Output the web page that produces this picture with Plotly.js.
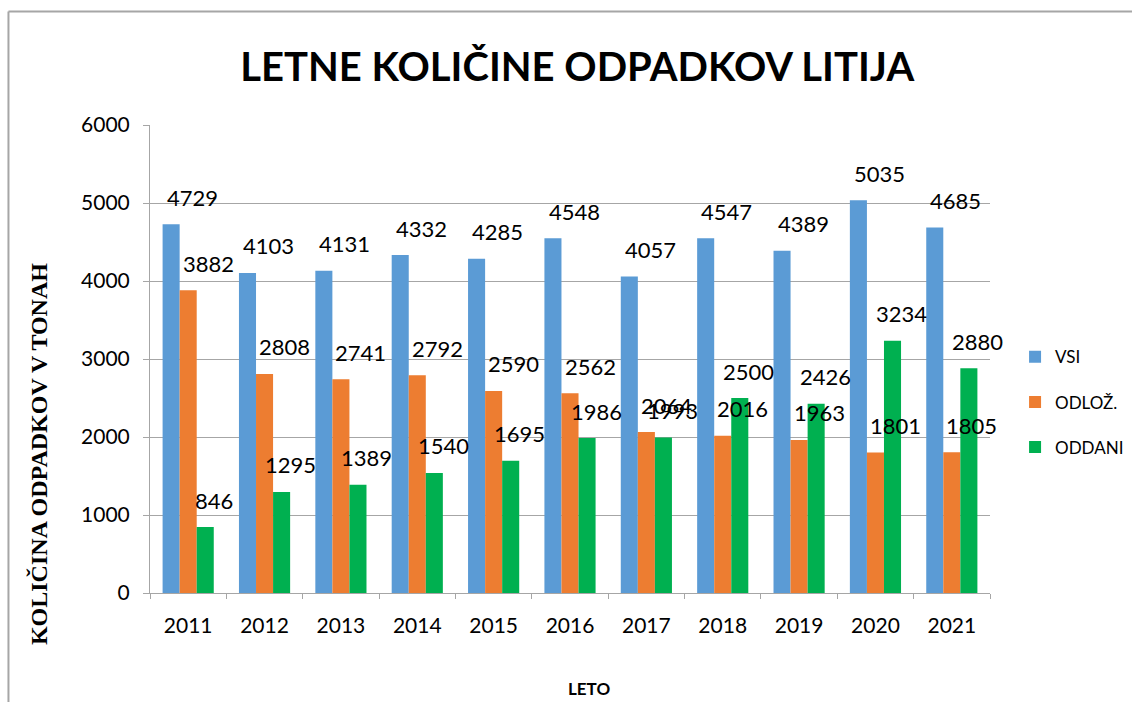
<!DOCTYPE html>
<html>
<head>
<meta charset="utf-8">
<script src="https://cdn.plot.ly/plotly-3.0.1.min.js"></script>
<style>html,body{margin:0;padding:0;background:#fff;}#chart{width:1132px;height:702px;}</style>
</head>
<body>
<div id="chart"></div>
<script>
const years = ['2011','2012','2013','2014','2015','2016','2017','2018','2019','2020','2021'];
const vsi    = [4729, 4103, 4131, 4332, 4285, 4548, 4057, 4547, 4389, 5035, 4685];
const odloz  = [3882, 2808, 2741, 2792, 2590, 2562, 2064, 2016, 1963, 1801, 1805];
const oddani = [846, 1295, 1389, 1540, 1695, 1986, 1993, 2500, 2426, 3234, 2880];
const seriesNames = ['VSI', 'ODLOŽ.', 'ODDANI'];
const colors = ['#5b9bd5', '#ed7d31', '#00b050'];

const font = 'Lato, "Open Sans", sans-serif';
const allSeries = [vsi, odloz, oddani];

const traces = allSeries.map((vals, i) => ({
  type: 'bar', name: seriesNames[i], x: years, y: vals, legendgroup: 'g' + i,
  marker: {color: colors[i]}, hoverinfo: 'x+y'
}));

const xshifts = [4, 20, 26];
const annotations = [];
allSeries.forEach((vals, i) => {
  vals.forEach((v, j) => {
    annotations.push({
      x: j, y: v, xref: 'x', yref: 'y', text: String(v),
      showarrow: false, xshift: xshifts[i], yshift: 27, yanchor: 'middle',
      font: {family: font, size: 22, color: '#000'}
    });
  });
});
annotations.push({
  xref: 'paper', yref: 'paper', x: 0.523, y: -0.205, xanchor: 'center', yanchor: 'middle',
  text: '<b>LETO</b>', showarrow: false, font: {family: font, size: 17, color: '#000'}
});
annotations.push({
  xref: 'paper', yref: 'paper', x: -0.132, y: 0.297, xanchor: 'center', yanchor: 'middle',
  text: '<b>KOLIČINA ODPADKOV V TONAH</b>', textangle: -90, showarrow: false,
  font: {family: '"Liberation Serif", "Times New Roman", serif', size: 24, color: '#000'}
});

const layout = {
  width: 1132, height: 702,
  margin: {l: 150, r: 142, t: 125, b: 109, autoexpand: false},
  paper_bgcolor: '#fff', plot_bgcolor: '#fff',
  title: {text: '<b>LETNE KOLIČINE ODPADKOV LITIJA</b>', font: {family: font, size: 40, color: '#000'},
          x: 0.51, xanchor: 'center', y: 0.905, yanchor: 'middle'},
  barmode: 'group', bargap: 0.33, bargroupgap: 0,
  xaxis: {type: 'category', range: [-0.5, years.length - 0.5], autorange: false,
          showline: true, linecolor: '#a6a6a6', linewidth: 1,
          ticks: 'outside', tickson: 'boundaries', ticklen: 5, tickcolor: '#a6a6a6',
          ticklabelstandoff: 14,
          tickfont: {family: font, size: 21, color: '#000'}, showgrid: false, tickangle: 0},
  yaxis: {range: [0, 6000], autorange: false, dtick: 1000, showline: true, linecolor: '#a6a6a6', linewidth: 1,
          ticks: 'outside', ticklen: 6, tickcolor: '#a6a6a6', gridcolor: '#a6a6a6', gridwidth: 1,
          ticklabelstandoff: 9,
          tickfont: {family: font, size: 21, color: '#000'}, zeroline: false},
  legend: {xref: 'container', yref: 'container', x: 0.8967, y: 0.427, xanchor: 'left', yanchor: 'middle',
           traceorder: 'grouped', tracegroupgap: 20, bgcolor: 'rgba(0,0,0,0)',
           font: {family: font, size: 17, color: '#000'}, itemwidth: 30},
  annotations: annotations,
  shapes: [
    {type: 'line', xref: 'paper', yref: 'paper', x0: -0.1685, x1: 1.2, y0: 1.2425, y1: 1.2425, line: {color: '#a6a6a6', width: 2}},
    {type: 'line', xref: 'paper', yref: 'paper', x0: -0.1685, x1: -0.1685, y0: 1.2425, y1: -0.25, line: {color: '#a6a6a6', width: 2}}
  ],
  showlegend: true
};

Plotly.newPlot('chart', traces, layout, {displayModeBar: false, staticPlot: true});
</script>
</body>
</html>
